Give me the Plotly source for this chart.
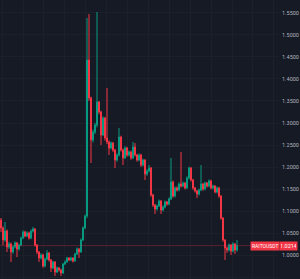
import plotly.graph_objects as go

symbol = "RAITOUSDT"
last_price = 1.0214
price_ticks = [0.95, 1.00, 1.05, 1.10, 1.15, 1.20, 1.25, 1.30, 1.35, 1.40, 1.45, 1.50, 1.55]

opens = [1.0795, 1.0614, 1.0341, 1.0545, 1.0182, 1.0250, 1.0068, 1.0182, 1.0273, 1.0136,
         1.0227, 1.0386, 1.0523, 1.0432, 1.0500, 1.0386, 1.0545, 1.0591, 1.0227, 1.0068,
         0.9932, 1.0000, 0.9750, 0.9909, 1.0045, 0.9886, 0.9705, 0.9841, 0.9614, 0.9705,
         0.9659, 0.9591, 0.9795, 0.9841, 0.9932, 0.9886, 0.9932, 0.9864, 1.0023, 1.0136,
         1.0068, 1.0341, 1.0614, 1.0886, 1.4432, 1.3568, 1.2614, 1.2795, 1.2954, 1.3477,
         1.3250, 1.2727, 1.3113, 1.2659, 1.2568, 1.2432, 1.2545, 1.2386, 1.2159, 1.2273,
         1.2682, 1.2386, 1.2205, 1.2432, 1.2273, 1.2341, 1.2205, 1.2455, 1.2273, 1.2159,
         1.2273, 1.2045, 1.2159, 1.1841, 1.1909, 1.1977, 1.1364, 1.1136, 1.1045, 1.1114,
         1.1227, 1.1023, 1.1091, 1.1205, 1.1159, 1.1273, 1.1659, 1.1341, 1.1523, 1.1477,
         1.1614, 1.1568, 1.1636, 1.1523, 1.1750, 1.1977, 1.1705, 1.1523, 1.1455, 1.1386,
         1.1477, 1.1614, 1.1500, 1.1636, 1.1568, 1.1682, 1.1523, 1.1568, 1.1432, 1.1523,
         1.1341, 1.0841, 1.0341, 1.0159, 1.0114, 1.0227, 1.0091, 1.0250, 1.0114]
highs = [1.0841, 1.0650, 1.0750, 1.0580, 1.0300, 1.0280, 1.0220, 1.0310, 1.0300, 1.0260,
         1.0420, 1.0560, 1.0550, 1.0540, 1.0530, 1.0580, 1.0640, 1.0610, 1.0250, 1.0090,
         1.0040, 1.0030, 0.9940, 1.0114, 1.0070, 0.9910, 0.9870, 0.9860, 0.9740, 0.9730,
         0.9690, 0.9820, 0.9880, 0.9960, 0.9950, 0.9960, 0.9950, 1.0050, 1.0170, 1.0160,
         1.0380, 1.0650, 1.0920, 1.5386, 1.5477, 1.3600, 1.2850, 1.3000, 1.5523, 1.3500,
         1.3280, 1.3150, 1.3140, 1.3795, 1.2600, 1.2580, 1.2570, 1.2410, 1.2310, 1.2886,
         1.2710, 1.2420, 1.2470, 1.2460, 1.2380, 1.2370, 1.2568, 1.2545, 1.2300, 1.2310,
         1.2300, 1.2190, 1.2180, 1.1950, 1.2045, 1.2000, 1.1390, 1.1160, 1.1150, 1.1260,
         1.1250, 1.1130, 1.1240, 1.1230, 1.1310, 1.2205, 1.1690, 1.1560, 1.1560, 1.1650,
         1.2341, 1.1670, 1.1660, 1.1790, 1.2010, 1.2000, 1.1730, 1.1550, 1.1480, 1.1510,
         1.2045, 1.1640, 1.1670, 1.1660, 1.1720, 1.1710, 1.1600, 1.1590, 1.1560, 1.1550,
         1.1360, 1.0860, 1.0360, 1.0190, 1.0260, 1.0250, 1.0290, 1.0270, 1.0341]
lows = [1.0523, 1.0227, 1.0300, 1.0068, 1.0140, 0.9841, 1.0030, 1.0150, 0.9955, 1.0100,
        1.0200, 1.0360, 1.0400, 1.0410, 1.0350, 1.0360, 1.0510, 1.0190, 1.0020, 0.9841,
        0.9900, 0.9710, 0.9720, 0.9880, 0.9850, 0.9614, 0.9680, 0.9523, 0.9590, 0.9620,
        0.9523, 0.9570, 0.9770, 0.9820, 0.9860, 0.9860, 0.9830, 0.9850, 1.0000, 0.9932,
        1.0050, 1.0320, 1.0590, 1.0841, 1.3500, 1.2091, 1.2560, 1.2750, 1.2900, 1.3200,
        1.2500, 1.2700, 1.2600, 1.2520, 1.2273, 1.2400, 1.2340, 1.1977, 1.2120, 1.2240,
        1.2350, 1.2045, 1.2180, 1.2230, 1.2240, 1.2160, 1.2180, 1.2240, 1.2120, 1.2130,
        1.2000, 1.2010, 1.1705, 1.1800, 1.1880, 1.1320, 1.1090, 1.0932, 1.1010, 1.1090,
        1.0932, 1.0990, 1.1060, 1.1120, 1.1130, 1.1250, 1.1300, 1.1310, 1.1440, 1.1450,
        1.1530, 1.1540, 1.1490, 1.1500, 1.1720, 1.1670, 1.1480, 1.1420, 1.1295, 1.1350,
        1.1450, 1.1460, 1.1470, 1.1530, 1.1540, 1.1490, 1.1490, 1.1400, 1.1400, 1.1300,
        1.0800, 1.0300, 0.9886, 1.0050, 1.0080, 1.0000, 1.0060, 1.0023, 1.0080]
closes = [1.0614, 1.0341, 1.0545, 1.0182, 1.0250, 1.0068, 1.0182, 1.0273, 1.0136, 1.0227,
          1.0386, 1.0523, 1.0432, 1.0500, 1.0386, 1.0545, 1.0591, 1.0227, 1.0068, 0.9932,
          1.0000, 0.9750, 0.9909, 1.0045, 0.9886, 0.9705, 0.9841, 0.9614, 0.9705, 0.9659,
          0.9591, 0.9795, 0.9841, 0.9932, 0.9886, 0.9932, 0.9864, 1.0023, 1.0136, 1.0068,
          1.0341, 1.0614, 1.0886, 1.4432, 1.3568, 1.2614, 1.2795, 1.2954, 1.3477, 1.3250,
          1.2727, 1.3113, 1.2659, 1.2568, 1.2432, 1.2545, 1.2386, 1.2159, 1.2273, 1.2682,
          1.2386, 1.2205, 1.2432, 1.2273, 1.2341, 1.2205, 1.2455, 1.2273, 1.2159, 1.2273,
          1.2045, 1.2159, 1.1841, 1.1909, 1.1977, 1.1364, 1.1136, 1.1045, 1.1114, 1.1227,
          1.1023, 1.1091, 1.1205, 1.1159, 1.1273, 1.1659, 1.1341, 1.1523, 1.1477, 1.1614,
          1.1568, 1.1636, 1.1523, 1.1750, 1.1977, 1.1705, 1.1523, 1.1455, 1.1386, 1.1477,
          1.1614, 1.1500, 1.1636, 1.1568, 1.1682, 1.1523, 1.1568, 1.1432, 1.1523, 1.1341,
          1.0841, 1.0341, 1.0159, 1.0114, 1.0227, 1.0091, 1.0250, 1.0114, 1.0214]

x = list(range(len(closes)))

UP = "#089981"
DOWN = "#f23645"
BG = "#161a25"
GRID = "#1c202b"

fig = go.Figure()
fig.add_trace(go.Candlestick(
    x=x, open=opens, high=highs, low=lows, close=closes,
    increasing=dict(line=dict(color=UP, width=1), fillcolor=UP),
    decreasing=dict(line=dict(color=DOWN, width=1), fillcolor=DOWN),
    whiskerwidth=0, showlegend=False, hoverinfo="skip",
))

fig.add_shape(type="line", xref="paper", x0=0, x1=1, yref="y", y0=last_price, y1=last_price,
              line=dict(color="rgba(242,54,69,0.3)", width=1))

fig.add_annotation(xref="paper", x=0.955, yref="y", y=last_price, text=symbol,
                   showarrow=False, bgcolor=DOWN, font=dict(color="white", size=5, family="Roboto"),
                   borderpad=1, xanchor="center", yanchor="middle")
fig.add_annotation(xref="paper", x=1.004, yref="y", y=last_price, text=f"{last_price:.4f}",
                   showarrow=False, bgcolor=DOWN, font=dict(color="white", size=5.5, family="Roboto"),
                   borderpad=1, xanchor="left", yanchor="middle", width=15)

fig.update_layout(
    width=300, height=279,
    margin=dict(l=0, r=22, t=0, b=0),
    paper_bgcolor=BG, plot_bgcolor=BG,
    xaxis=dict(range=[-0.5, 138.5], showticklabels=False, rangeslider=dict(visible=False),
               showgrid=True, gridcolor=GRID, gridwidth=1, tick0=11, dtick=10.45,
               zeroline=False, showline=False, fixedrange=True),
    yaxis=dict(side="right", range=[0.9455, 1.5795], tickvals=price_ticks,
               ticktext=[f"{v:.4f}" for v in price_ticks],
               tickfont=dict(color="#b2b5be", size=5.5, family="Roboto"),
               showgrid=True, gridcolor=GRID, gridwidth=1, zeroline=False, showline=False,
               ticks="", ticklabelstandoff=3, fixedrange=True),
    showlegend=False,
)

fig.write_html("out.html", config={"displayModeBar": False})
